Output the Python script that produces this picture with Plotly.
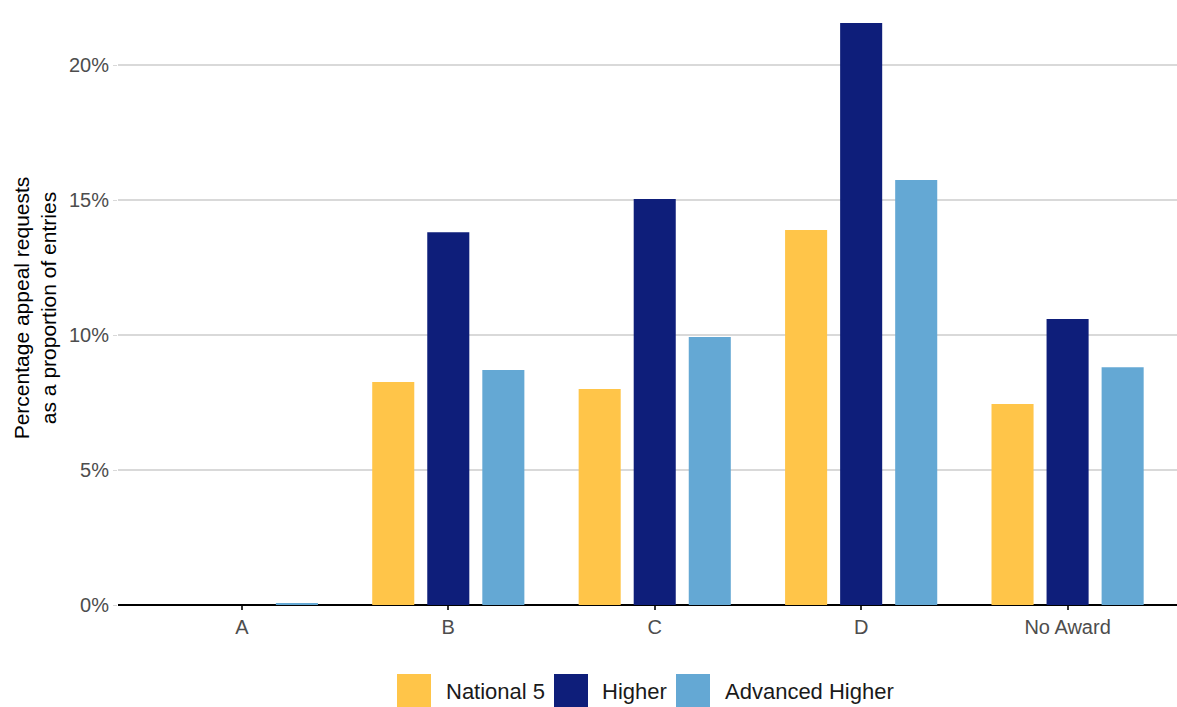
import plotly.graph_objects as go

categories = ["A", "B", "C", "D", "No Award"]
series_names = ["National 5", "Higher", "Advanced Higher"]
national5 = [0.0, 8.26, 8.0, 13.89, 7.44]
higher = [0.0, 13.81, 15.04, 21.56, 10.59]
advanced_higher = [0.05, 8.70, 9.93, 15.74, 8.81]
colors = ["#FFC549", "#0E1E7A", "#64A8D4"]
y_ticks = [0, 5, 10, 15, 20]
y_tick_labels = ["0%", "5%", "10%", "15%", "20%"]

fig = go.Figure()
for name, vals, col in zip(series_names, [national5, higher, advanced_higher], colors):
    fig.add_trace(go.Bar(x=categories, y=vals, name=name, marker_color=col,
                         marker_line_width=0, showlegend=False))

W, H = 1177, 707
PL, PB, PH, PW = 118, 605, 594, 1059  # plot area in page pixels
legend_x = [(397, 431, 444), (554, 588, 600), (676, 710, 723)]
for (x0, x1, tx), name, col in zip(legend_x, series_names, colors):
    fig.add_shape(type="rect", xref="paper", yref="paper",
                  x0=(x0 - PL) / PW, x1=(x1 - PL) / PW,
                  y0=-(674 - PB) / PH, y1=-(707 - PB) / PH,
                  fillcolor=col, line_width=0)
    fig.add_annotation(text=name, xref="paper", yref="paper",
                       x=(tx - PL) / PW, y=-(691 - PB) / PH,
                       xanchor="left", yanchor="middle", showarrow=False,
                       font=dict(size=22, color="#1a1a1a"))

fig.update_layout(
    width=W, height=H,
    margin=dict(l=118, r=0, t=11, b=102),
    paper_bgcolor="white", plot_bgcolor="white",
    barmode="group", bargap=0.2, bargroupgap=0.236,
    font=dict(family="Liberation Sans, Arial, sans-serif"),
    xaxis=dict(range=[-0.6, 4.53], showgrid=False, ticks="outside", ticklen=4,
               tickcolor="#333333", tickwidth=1.5,
               tickfont=dict(size=20, color="#4d4d4d"),
               showline=False, zeroline=False),
    yaxis=dict(range=[0, 22.0], tickvals=y_ticks, ticktext=y_tick_labels,
               showgrid=True, gridcolor="#d9d9d9", gridwidth=1.5,
               ticks="outside", ticklen=4, tickcolor="#d9d9d9",
               tickfont=dict(size=20, color="#4d4d4d"),
               zeroline=True, zerolinecolor="#000000", zerolinewidth=2,
               title=dict(text="Percentage appeal requests<br>as a proportion of entries",
                          font=dict(size=21, color="#000000"), standoff=6)),
)

fig.write_html("out.html", config={"displayModeBar": False},
               post_script="document.body.style.margin='0';document.body.style.overflow='hidden';")
